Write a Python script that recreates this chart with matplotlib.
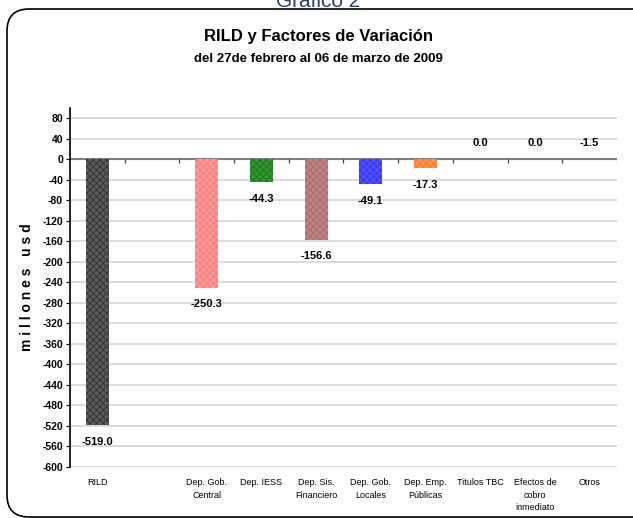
import numpy as np
import matplotlib
matplotlib.use('Agg')
import matplotlib.pyplot as plt
from matplotlib.patches import FancyBboxPatch

# data
categories = ['RILD', '', 'Dep. Gob.\nCentral', 'Dep. IESS', 'Dep. Sis.\nFinanciero',
              'Dep. Gob.\nLocales', 'Dep. Emp.\nPúblicas', 'Titulos TBC',
              'Efectos de\ncobro\ninmediato', 'Otros']
values = [-519.0, np.nan, -250.3, -44.3, -156.6, -49.1, -17.3, 0.0, 0.0, -1.5]
bar_colors = ['#5c5c5c', 'none', '#ff8080', '#2e9a2e', '#c08585', '#3838ff',
              '#ff7f27', 'none', 'none', 'none']
hatch_colors = ['#2e2e2e', 'none', '#ffaaaa', '#1f6f1f', '#a06868', '#5f5fff',
                '#ff9f5f', 'none', 'none', 'none']
yticks = list(range(-600, 81, 40))

plt.rcParams['font.family'] = ['Liberation Sans', 'DejaVu Sans']
plt.rcParams['hatch.linewidth'] = 0.6

fig = plt.figure(figsize=(6.33, 5.18), dpi=100)
ax = fig.add_axes([0.1106, 0.0985, 0.864, 0.693])

x = np.arange(len(categories))
bars = ax.bar(x, values, width=0.42, color=bar_colors, linewidth=0, zorder=3)
for b, hc in zip(bars, hatch_colors):
    if hc != 'none':
        b.set_hatch('xxxxx')
    b.set_edgecolor(hc)

# value labels
for xi, v in zip(x, values):
    if np.isnan(v):
        continue
    if v < -5:
        ax.annotate(f'{v:.1f}', (xi, v), xytext=(0, -12), textcoords='offset points',
                    ha='center', va='center', fontsize=8, fontweight='bold')
    else:
        ax.annotate(f'{v:.1f}', (xi, 0), xytext=(0, 12), textcoords='offset points',
                    ha='center', va='center', fontsize=8, fontweight='bold')

ax.set_xlim(-0.5, len(categories) - 0.5)
ax.set_ylim(-600, 100)
ax.set_yticks(yticks)
ax.set_yticklabels([str(t) for t in yticks], fontsize=7.5, fontweight='bold')
ax.yaxis.grid(True, color='#d9d9d9', linewidth=1.3, zorder=0)
ax.set_axisbelow(True)

# zero line with category separators
ax.axhline(0, color='#808080', linewidth=1.5, zorder=2)
ax.vlines(x + 0.5, -8, 0, color='#404040', linewidth=0.9, zorder=2)

ax.set_xticks(x)
ax.set_xticklabels(categories, fontsize=6.5, linespacing=1.5, va='top')
ax.tick_params(axis='x', length=0, pad=8)
ax.tick_params(axis='y', length=3, width=0.8, pad=2)

for s in ['top', 'right', 'bottom']:
    ax.spines[s].set_visible(False)
ax.spines['left'].set_linewidth(1.2)

ax.set_ylabel('m i l l o n e s   u s d', fontsize=10, fontweight='bold', labelpad=6)

fig.text(0.503, 0.930, 'RILD y Factores de Variación', ha='center', va='center',
         fontsize=12, fontweight='bold')
fig.text(0.503, 0.887, 'del 27de febrero al 06 de marzo de 2009', ha='center', va='center',
         fontsize=9.5, fontweight='bold')
fig.text(0.503, 0.998, 'Gráfico 2', ha='center', va='center', fontsize=15, color='#2a3f6e')

border = FancyBboxPatch((0.07, 0.01), 6.9, 5.08, boxstyle='round,pad=0,rounding_size=0.22',
                        transform=fig.dpi_scale_trans, facecolor='none', edgecolor='black',
                        linewidth=1.2)
fig.patches.append(border)

fig.savefig('out.png', dpi=100)
